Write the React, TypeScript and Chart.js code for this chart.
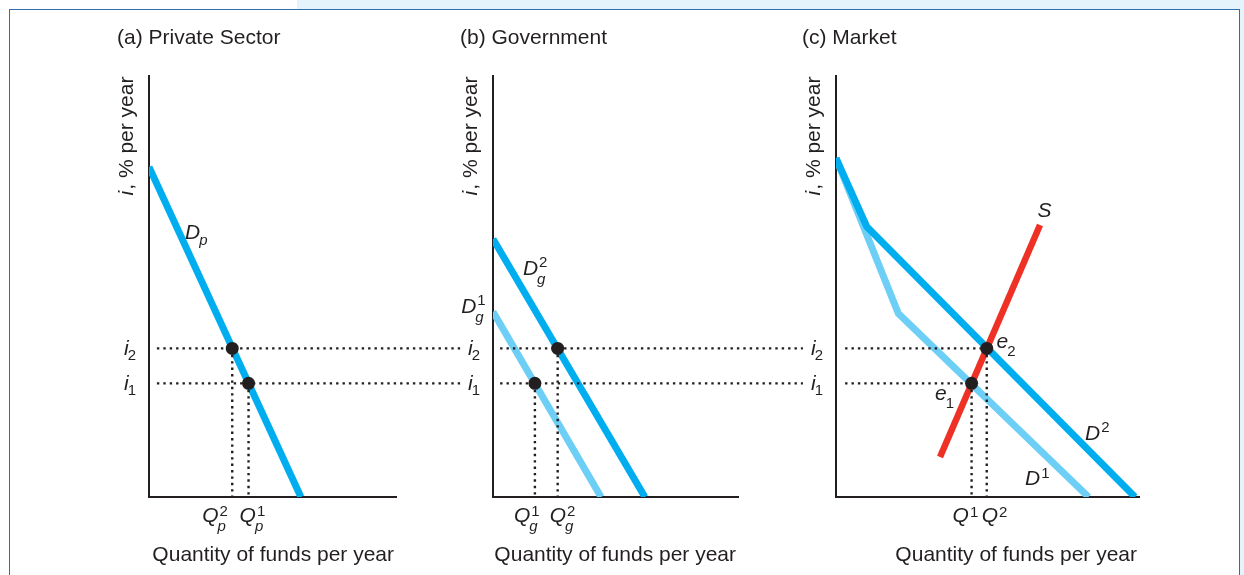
import React, { useEffect, useRef } from "react";
import { Chart, registerables } from "chart.js";

Chart.register(...registerables);

// ---------------- data ----------------
const rateLevels = [2.7, 3.53]; // i1, i2
const rateSubscripts = ["1", "2"];

// (a) Private sector
const privateDemandQ = [0, 6.15];
const privateDemandI = [7.84, 0];
const privateQuantities = [4.03, 3.37]; // Qp1, Qp2

// (b) Government
const govDemand1Q = [0, 4.41];
const govDemand1I = [4.4, 0];
const govDemand2Q = [0, 6.2];
const govDemand2I = [6.13, 0];
const govQuantities = [1.71, 2.64]; // Qg1, Qg2

// (c) Market
const marketDemand1Q = [0, 2.47, 10.0];
const marketDemand1I = [8.05, 4.36, 0];
const marketDemand2Q = [0, 1.22, 11.84];
const marketDemand2I = [8.05, 6.42, 0];
const supplyQ = [4.12, 8.08];
const supplyI = [0.95, 6.46];
const marketQuantities = [5.37, 5.97]; // Q1, Q2

const panelTitles = ["(a) Private Sector", "(b) Government", "(c) Market"];
const xAxisTitle = "Quantity of funds per year";
const yAxisTitleItalic = "i";
const yAxisTitleRest = ", % per year";

// ---------------- styles / layout ----------------
const W = 1244;
const H = 575;
const AXIS_TOP = 76;
const AXIS_BOTTOM = 497;
const Y_MAX = 10;
const INK = "#231f20";
const BLUE = "#00aeef";
const LIGHT_BLUE = "#6dcff6";
const RED = "#ee3124";
const FRAME = "#2f6fae";
const FRAME_BG = "#e5f4fb";
const FONT = '"Liberation Sans", Arial, Helvetica, sans-serif';
const MAIN_SIZE = 21;
const SCRIPT_SIZE = 15;

type Rich = { main: string; sup?: string; sub?: string; supDy?: number; subDy?: number };
type CurveLabel = Rich & { x: number; y: number };
type QLabel = Rich & { dx: number };

type Panel = {
  left: number;
  right: number;
  xMax: number;
  title: string;
  titleX: number;
  yTitleX: number;
  curves: { q: number[]; i: number[]; color: string; width: number; order: number }[];
  quantities: number[];
  guideStart: number;
  guideEnd: number[];
  qLabels: QLabel[];
  curveLabels: CurveLabel[];
};

const PANELS: Panel[] = [
  {
    left: 149,
    right: 396,
    xMax: 10,
    title: panelTitles[0],
    titleX: 117,
    yTitleX: 133,
    curves: [{ q: privateDemandQ, i: privateDemandI, color: BLUE, width: 7, order: 3 }],
    quantities: privateQuantities,
    guideStart: 0.32,
    guideEnd: [12.6, 12.6],
    qLabels: [
      { main: "Q", sup: "1", sub: "p", dx: -9 },
      { main: "Q", sup: "2", sub: "p", dx: -30 },
    ],
    curveLabels: [{ main: "D", sub: "p", x: 1.46, y: 6.13, subDy: 6 }],
  },
  {
    left: 493,
    right: 738,
    xMax: 10,
    title: panelTitles[1],
    titleX: 460,
    yTitleX: 477,
    curves: [
      { q: govDemand1Q, i: govDemand1I, color: LIGHT_BLUE, width: 7, order: 4 },
      { q: govDemand2Q, i: govDemand2I, color: BLUE, width: 7, order: 3 },
    ],
    quantities: govQuantities,
    guideStart: 0.29,
    guideEnd: [12.65, 12.65],
    qLabels: [
      { main: "Q", sup: "1", sub: "g", dx: -21 },
      { main: "Q", sup: "2", sub: "g", dx: -8 },
    ],
    curveLabels: [
      { main: "D", sup: "2", sub: "g", x: 1.22, y: 5.27, supDy: -8, subDy: 9 },
      { main: "D", sup: "1", sub: "g", x: -1.3, y: 4.37, supDy: -8, subDy: 9 },
    ],
  },
  {
    left: 836,
    right: 1139,
    xMax: 12,
    title: panelTitles[2],
    titleX: 802,
    yTitleX: 820,
    curves: [
      { q: marketDemand1Q, i: marketDemand1I, color: LIGHT_BLUE, width: 7, order: 4 },
      { q: marketDemand2Q, i: marketDemand2I, color: BLUE, width: 7, order: 3 },
      { q: supplyQ, i: supplyI, color: RED, width: 6.5, order: 2 },
    ],
    quantities: marketQuantities,
    guideStart: 0.36,
    guideEnd: marketQuantities,
    qLabels: [
      { main: "Q", sup: "1", dx: -19, supDy: -5 },
      { main: "Q", sup: "2", dx: -5, supDy: -5 },
    ],
    curveLabels: [
      { main: "S", x: 7.98, y: 6.66 },
      { main: "e", sub: "2", x: 6.36, y: 3.54, subDy: 8 },
      { main: "e", sub: "1", x: 3.92, y: 2.3, subDy: 8 },
      { main: "D", sup: "2", x: 9.86, y: 1.35, supDy: -8 },
      { main: "D", sup: "1", x: 7.49, y: 0.285, supDy: -7 },
    ],
  },
];

function scriptFont(s: string, size: number) {
  return `${/[a-z]/i.test(s) ? "italic " : ""}${size}px ${FONT}`;
}

function drawRich(
  ctx: CanvasRenderingContext2D,
  x: number,
  y: number,
  l: Rich,
  align: "left" | "right" = "left",
  mainSize = MAIN_SIZE,
  scriptSize = SCRIPT_SIZE
) {
  const mf = `italic ${mainSize}px ${FONT}`;
  ctx.font = mf;
  const mw = ctx.measureText(l.main).width;
  let sw = 0;
  if (l.sup) {
    ctx.font = scriptFont(l.sup, scriptSize);
    sw = Math.max(sw, ctx.measureText(l.sup).width);
  }
  if (l.sub) {
    ctx.font = scriptFont(l.sub, scriptSize);
    sw = Math.max(sw, ctx.measureText(l.sub).width);
  }
  const total = mw + (sw ? sw + 1 : 0);
  const x0 = align === "right" ? x - total : x;
  ctx.textAlign = "left";
  ctx.textBaseline = "alphabetic";
  ctx.fillStyle = INK;
  ctx.font = mf;
  ctx.fillText(l.main, x0, y);
  if (l.sup) {
    ctx.font = scriptFont(l.sup, scriptSize);
    ctx.fillText(l.sup, x0 + mw + 1, y + (l.supDy ?? -7));
  }
  if (l.sub) {
    ctx.font = scriptFont(l.sub, scriptSize);
    ctx.fillText(l.sub, x0 + mw - 1, y + (l.subDy ?? 6));
  }
}

function pts(qs: number[], is: number[]) {
  return qs.map((q, k) => ({ x: q, y: is[k] }));
}

function buildConfig(p: Panel): any {
  const datasets: any[] = [];
  // equilibrium dots
  datasets.push({
    data: pts(p.quantities, rateLevels),
    showLine: false,
    pointRadius: 6.5,
    pointBackgroundColor: INK,
    pointBorderWidth: 0,
    clip: false,
    order: 0,
  });
  // dotted guides
  const guide = {
    showLine: true,
    borderColor: INK,
    borderWidth: 2.4,
    borderDash: [2.4, 4],
    pointRadius: 0,
    clip: false,
    order: 1,
  };
  rateLevels.forEach((r, k) => {
    datasets.push({
      ...guide,
      data: [
        { x: p.guideStart, y: r },
        { x: p.guideEnd[k], y: r },
      ],
    });
    datasets.push({
      ...guide,
      data: [
        { x: p.quantities[k], y: r },
        { x: p.quantities[k], y: 0 },
      ],
    });
  });
  // curves
  p.curves.forEach((c) => {
    datasets.push({
      data: pts(c.q, c.i),
      showLine: true,
      borderColor: c.color,
      borderWidth: c.width,
      borderCapStyle: "butt",
      borderJoinStyle: "miter",
      pointRadius: 0,
      tension: 0,
      clip: { left: 0, top: false, right: false, bottom: 0 },
      order: c.order,
    });
  });

  const textPlugin = {
    id: "panelText",
    afterDraw(chart: any) {
      const ctx: CanvasRenderingContext2D = chart.ctx;
      const xs = chart.scales.x;
      const ys = chart.scales.y;
      const area = chart.chartArea;
      ctx.save();
      ctx.fillStyle = INK;
      // panel title
      ctx.font = `21px ${FONT}`;
      ctx.textAlign = "left";
      ctx.textBaseline = "alphabetic";
      ctx.fillText(p.title, p.titleX, 43.5);
      // x axis title (right aligned at axis end)
      ctx.textAlign = "right";
      ctx.fillText(xAxisTitle, area.right - 2, 561);
      // y axis title, rotated
      ctx.save();
      ctx.translate(p.yTitleX, (AXIS_TOP + 197) / 2);
      ctx.rotate(-Math.PI / 2);
      ctx.textAlign = "left";
      ctx.font = `italic 21px ${FONT}`;
      const w1 = ctx.measureText(yAxisTitleItalic).width;
      ctx.font = `21px ${FONT}`;
      const w2 = ctx.measureText(yAxisTitleRest).width;
      const sx = -(w1 + w2) / 2;
      ctx.font = `italic 21px ${FONT}`;
      ctx.fillText(yAxisTitleItalic, sx, 0);
      ctx.font = `21px ${FONT}`;
      ctx.fillText(yAxisTitleRest, sx + w1 + 1, 0);
      ctx.restore();
      // interest-rate tick labels
      rateLevels.forEach((r, k) => {
        const py = ys.getPixelForValue(r);
        drawRich(ctx, area.left - 11, py + 7, { main: "i", sub: rateSubscripts[k], subDy: 5 }, "right");
      });
      // quantity tick labels
      p.qLabels.forEach((l, k) => {
        const px = xs.getPixelForValue(p.quantities[k]);
        drawRich(ctx, px + l.dx, area.bottom + 25, { supDy: -6, subDy: 9, ...l });
      });
      // curve labels
      p.curveLabels.forEach((l) => {
        drawRich(ctx, xs.getPixelForValue(l.x), ys.getPixelForValue(l.y), l);
      });
      ctx.restore();
    },
  };

  return {
    type: "scatter",
    data: { datasets },
    options: {
      animation: false,
      responsive: false,
      events: [],
      layout: {
        padding: { left: p.left, right: W - p.right, top: AXIS_TOP, bottom: H - AXIS_BOTTOM },
      },
      plugins: { legend: { display: false }, tooltip: { enabled: false } },
      scales: {
        x: {
          type: "linear",
          min: 0,
          max: p.xMax,
          grid: { display: false, drawTicks: false },
          ticks: { display: false },
          border: { display: true, color: INK, width: 2 },
        },
        y: {
          type: "linear",
          min: 0,
          max: Y_MAX,
          grid: { display: false, drawTicks: false },
          ticks: { display: false },
          border: { display: true, color: INK, width: 2 },
        },
      },
    },
    plugins: [textPlugin],
  };
}

export default function App() {
  const r0 = useRef<HTMLCanvasElement>(null);
  const r1 = useRef<HTMLCanvasElement>(null);
  const r2 = useRef<HTMLCanvasElement>(null);
  const refs = [r0, r1, r2];

  useEffect(() => {
    document.body.style.margin = "0";
    const charts = PANELS.map((p, idx) => new Chart(refs[idx].current as HTMLCanvasElement, buildConfig(p)));
    return () => charts.forEach((c) => c.destroy());
  }, []);

  return (
    <div
      style={{
        position: "fixed",
        left: 0,
        top: 0,
        width: W,
        height: H,
        overflow: "hidden",
        background: "#ffffff",
      }}
    >
      <div style={{ position: "absolute", left: 297, top: 0, width: W - 297, height: 10, background: FRAME_BG }} />
      <div style={{ position: "absolute", left: 1239, top: 0, width: 5, height: H, background: FRAME_BG }} />
      <div
        style={{
          position: "absolute",
          left: 9,
          top: 9,
          width: 1230.5,
          height: H + 20,
          border: `1.5px solid ${FRAME}`,
          boxSizing: "border-box",
        }}
      />
      {refs.map((r, i) => (
        <canvas key={i} ref={r} width={W} height={H} style={{ position: "absolute", left: 0, top: 0 }} />
      ))}
    </div>
  );
}
